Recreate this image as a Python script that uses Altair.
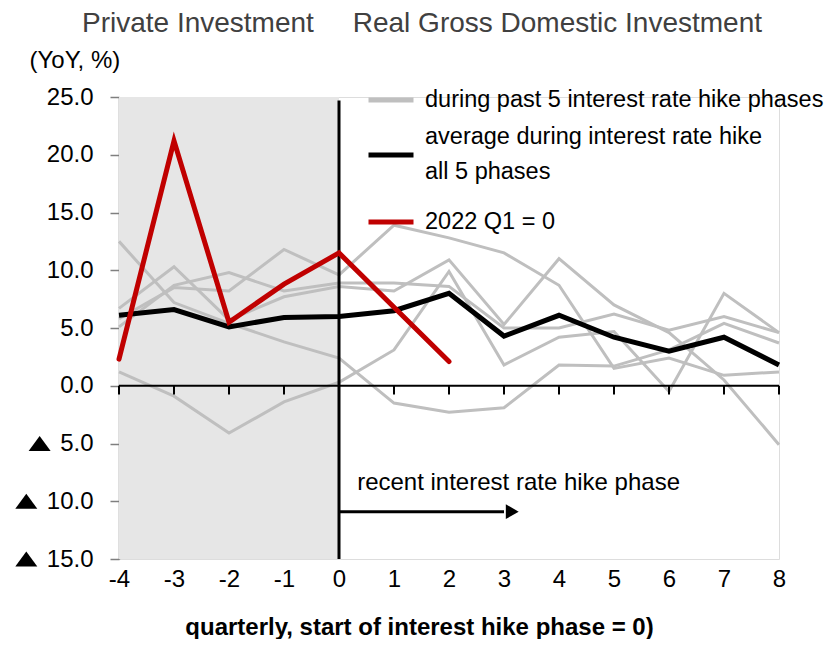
import altair as alt
import pandas as pd

# ---- data ----
quarters = [-4, -3, -2, -1, 0, 1, 2, 3, 4, 5, 6, 7, 8]
past_1 = [6.7, 10.3, 5.7, 7.7, 8.6, 8.2, 10.9, 5.3, 11.0, 7.0, 4.6, 0.5, -5.1]
past_2 = [5.8, 8.5, 8.2, 11.8, 9.6, 13.9, 12.8, 11.5, 8.7, 1.5, 2.4, 0.9, 1.2]
past_3 = [5.1, 8.7, 9.8, 8.2, 8.9, 8.9, 8.6, 5.0, 5.0, 6.2, 4.8, 6.0, 4.6]
past_4 = [1.2, -0.9, -4.1, -1.4, 0.3, 3.1, 9.9, 1.8, 4.2, 4.7, -0.5, 8.0, 4.6]
past_5 = [12.5, 7.2, 5.4, 3.8, 2.4, -1.5, -2.3, -1.9, 1.8, 1.7, 3.1, 5.4, 3.7]
average = [6.1, 6.6, 5.1, 5.9, 6.0, 6.5, 8.0, 4.3, 6.1, 4.2, 3.0, 4.2, 1.8]
recent_quarters = [-4, -3, -2, -1, 0, 1, 2]
recent = [2.3, 21.2, 5.5, 8.8, 11.5, 6.8, 2.1]

y_ticks = [25, 20, 15, 10, 5, 0, -5, -10, -15]

LEG_PAST = "during past 5 interest rate hike phases"
LEG_AVG = "average during interest rate hike all 5 phases"
LEG_NOW = "2022 Q1 = 0"
kinds = [LEG_PAST, LEG_AVG, LEG_NOW]
kind_colors = ["#bfbfbf", "#000000", "#c00000"]

TITLE_LEFT = "Private Investment"
TITLE_RIGHT = "Real Gross Domestic Investment"
Y_TITLE = "(YoY, %)"
X_TITLE = "quarterly, start of interest hike phase = 0)"
ARROW_TEXT = "recent interest rate hike phase"

FONT = "Liberation Sans, Arial, sans-serif"

# ---- tables ----
rows = []
for i, s in enumerate([past_1, past_2, past_3, past_4, past_5]):
    for q, v in zip(quarters, s):
        rows.append({"q": q, "v": v, "series": f"p{i+1}", "kind": LEG_PAST})
df_past = pd.DataFrame(rows)
df_avg = pd.DataFrame({"q": quarters, "v": average, "series": "avg", "kind": LEG_AVG})
df_now = pd.DataFrame({"q": recent_quarters, "v": recent, "series": "now", "kind": LEG_NOW})
df_ticks = pd.DataFrame({"q": quarters})
df_yt = pd.DataFrame({"t": y_ticks})

xs = alt.Scale(domain=[-4, 8], nice=False, zero=False)
ys = alt.Scale(domain=[-15, 25], nice=False, zero=False)

x_enc = alt.X("q:Q", scale=xs, axis=alt.Axis(
    values=quarters, labelExpr="'' + datum.value", labelFlush=False,
    domain=False, ticks=False, grid=False,
    labelFontSize=24, labelFont=FONT, labelColor="black", labelPadding=8,
    title=X_TITLE, titleFontSize=24, titleFont=FONT, titleFontWeight="bold",
    titleColor="black", titlePadding=24, titleX=300))
y_enc = alt.Y("v:Q", scale=ys, axis=alt.Axis(
    values=y_ticks, labelExpr="format(abs(datum.value), '.1f')", grid=False,
    domainColor="#7f7f7f", domainWidth=1.5, tickColor="#7f7f7f", tickWidth=1.5,
    tickSize=9, labelPadding=17, labelFontSize=24, labelFont=FONT,
    labelColor="black", title=Y_TITLE, titleAngle=0, titleAlign="left",
    titleBaseline="middle", titleX=-90, titleY=-37, titleFontSize=24,
    titleFont=FONT, titleFontWeight="normal", titleColor="black"))

color_enc = alt.Color("kind:N", scale=alt.Scale(domain=kinds, range=kind_colors),
    legend=alt.Legend(
        title=None, orient="none", legendX=247, legendY=-22, padding=0,
        symbolType="stroke", symbolSize=2025, symbolStrokeWidth=5,
        labelFontSize=23.5, labelFont=FONT, labelColor="black", labelOffset=9,
        labelLimit=600, rowPadding=13,
        labelBaseline=alt.ExprRef(
            expr="datum.label == '" + LEG_AVG + "' ? 'line-bottom' : 'middle'"),
        labelExpr=("datum.label == '" + LEG_AVG + "' ? "
                   "['average during interest rate hike', 'all 5 phases'] : datum.label")))

shade = alt.Chart().mark_rect(color="#e6e6e6").encode(
    x=alt.datum(-4, scale=xs), x2=alt.datum(0), y=alt.datum(25, scale=ys), y2=alt.datum(-15))

zero_line = alt.Chart().mark_rule(color="black", strokeWidth=2).encode(
    y=alt.datum(0, scale=ys))

ticks = alt.Chart(df_ticks).mark_rule(color="black", strokeWidth=2).encode(
    x=alt.X("q:Q", scale=xs), y=alt.datum(0, scale=ys), y2=alt.datum(-0.75))

vline = alt.Chart().mark_rule(color="black", strokeWidth=3).encode(
    x=alt.datum(0, scale=xs), y=alt.datum(24.7, scale=ys), y2=alt.datum(-15))

grey = alt.Chart(df_past).mark_line(strokeWidth=3, strokeJoin="miter").encode(
    x=x_enc, y=y_enc, color=color_enc, detail="series:N")
black = alt.Chart(df_avg).mark_line(strokeWidth=5).encode(
    x=alt.X("q:Q", scale=xs), y=alt.Y("v:Q", scale=ys), color=color_enc)
red = alt.Chart(df_now).mark_line(strokeWidth=5, strokeCap="round").encode(
    x=alt.X("q:Q", scale=xs), y=alt.Y("v:Q", scale=ys), color=color_enc)

# "▲" (negative) markers in front of the negative y tick labels
neg_marks = alt.Chart(df_yt).transform_filter("datum.t < 0").transform_calculate(
    n="length(format(abs(datum.t), '.1f'))",
    off="-26 - (13.344 * (datum.n - 1) + 6.672) - 20",
).mark_point(shape="M-1,0.68L1,0.68L0,-0.68Z", filled=True, color="black",
             size=484, opacity=1).encode(
    x=alt.datum(-4, scale=xs), y=alt.Y("t:Q", scale=ys),
    xOffset=alt.XOffset("off:Q", scale=None))

arrow_line = alt.Chart().mark_rule(color="black", strokeWidth=3).encode(
    x=alt.datum(0, scale=xs), x2=alt.datum(3.0), y=alt.datum(-10.9, scale=ys))
arrow_head = alt.Chart().mark_point(shape="triangle-right", filled=True, color="black",
                                    size=220, opacity=1).encode(
    x=alt.datum(3.15, scale=xs), y=alt.datum(-10.9, scale=ys))
arrow_text = alt.Chart().mark_text(text=ARROW_TEXT, align="left", baseline="middle",
                                   fontSize=24, font=FONT, color="black").encode(
    x=alt.datum(0.33, scale=xs), y=alt.datum(-8.4, scale=ys))

title_left = alt.Chart().mark_text(text=TITLE_LEFT, align="left", baseline="middle",
                                   fontSize=28, font=FONT, color="#404040").encode(
    x=alt.datum(-4.673, scale=xs), y=alt.datum(31.35, scale=ys))
title_right = alt.Chart().mark_text(text=TITLE_RIGHT, align="left", baseline="middle",
                                    fontSize=28, font=FONT, color="#404040").encode(
    x=alt.datum(0.25, scale=xs), y=alt.datum(31.35, scale=ys))

chart = alt.layer(
    shade, grey, zero_line, ticks, vline, black, red, arrow_line, arrow_head,
    arrow_text, neg_marks, title_left, title_right
).properties(
    width=660, height=462,
    autosize=alt.AutoSizeParams(type="none"),
    padding={"left": 111, "top": 89, "right": 48, "bottom": 80},
).configure_view(stroke=None).configure(
    style={"guide-label": {"lineHeight": 35}})

chart.save("out.html", embed_options={"renderer": "svg", "actions": False})
